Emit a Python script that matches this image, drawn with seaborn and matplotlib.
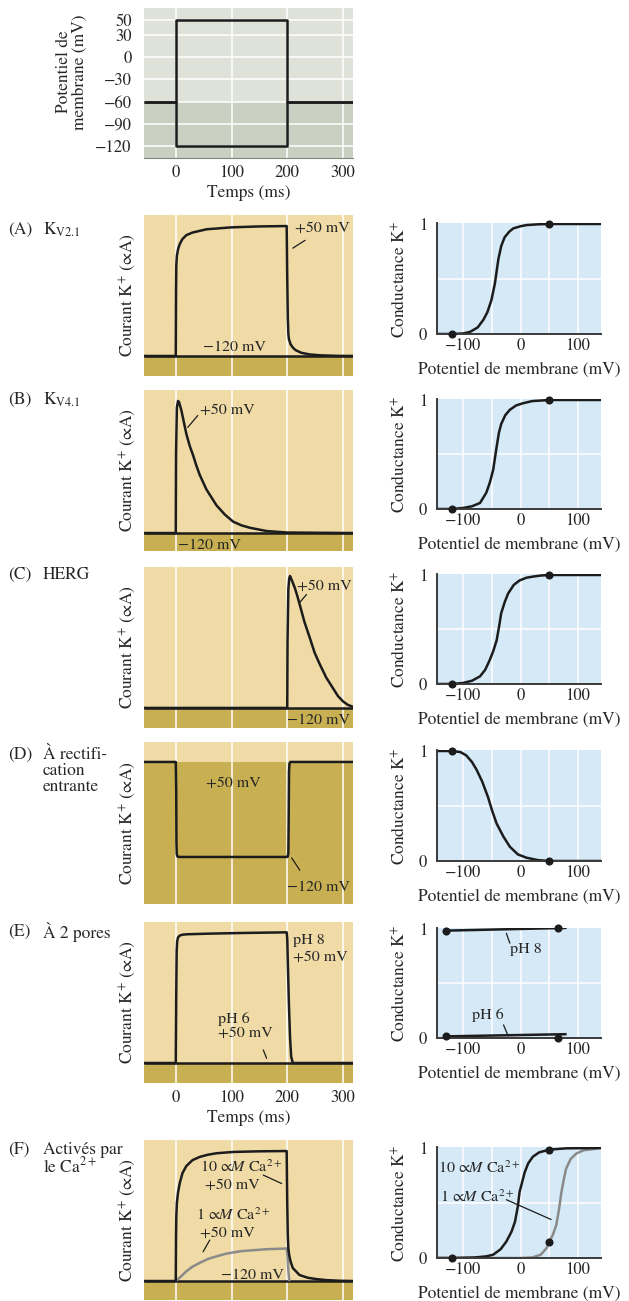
import matplotlib
matplotlib.use("Agg")
import matplotlib.pyplot as plt
import seaborn as sns

# ---------------- data ----------------
time_ticks = [0, 100, 200, 300]
volt_ticks = [50, 30, 0, -30, -60, -90, -120]
mv_ticks = [-100, 0, 100]

# voltage protocol (top)
step_t = [-57, 0, 0, 200, 200, 318]
step_dep = [-60, -60, 50, 50, -60, -60]
step_hyp = [-60, -60, -120, -120, -60, -60]

# baseline current (-120 mV)
base_t = [-57, 318]
base_i = [0, 0]

# (A) Kv2.1
kv21_t = [-57, 0, 0.5, 1, 2, 4, 7, 12, 19, 30, 55, 100, 150, 199, 200, 201, 202, 203, 206, 210, 215, 225, 240, 260, 290, 318]
kv21_i = [0, 0, 0.5, 0.7, 0.77, 0.82, 0.86, 0.9, 0.93, 0.95, 0.975, 0.99, 0.997, 1.0, 0.6, 0.3, 0.17, 0.13, 0.09, 0.065, 0.045, 0.025, 0.012, 0.005, 0.001, 0]

# (B) Kv4.1
kv41_t = [-57, 0, 0.5, 2, 4, 6, 10, 15, 19, 25, 31, 37, 43, 55, 73, 88, 103, 118, 133, 163, 200, 318]
kv41_i = [0, 0, 0.6, 0.95, 1.0, 0.99, 0.93, 0.83, 0.75, 0.66, 0.59, 0.51, 0.44, 0.33, 0.21, 0.14, 0.086, 0.058, 0.04, 0.015, 0.004, 0]

# (C) HERG
herg_t = [-57, 200, 200.5, 202, 203.5, 205, 208, 213.6, 218, 222.6, 231, 240.6, 249, 258.5, 270, 282, 291, 300, 308, 318]
herg_i = [0, 0, 0.5, 0.9, 0.98, 1.0, 0.97, 0.91, 0.85, 0.78, 0.65, 0.53, 0.42, 0.33, 0.23, 0.15, 0.09, 0.05, 0.025, 0.008]

# (D) inward rectifier
kir_t = [-57, 0, 0.8, 1.2, 1.8, 3, 5, 200, 201, 202, 202.6, 203.2, 204, 205.5, 318]
kir_i = [0, 0, -0.3, -0.85, -0.97, -0.995, -1.0, -1.0, -0.995, -0.96, -0.6, -0.1, -0.02, 0, 0]

# (E) two-pore, pH 8
k2p_t = [-57, 0, 0.8, 1.6, 2.5, 4, 7, 12, 20, 60, 120, 199, 200, 201.5, 203, 205, 207, 210, 318]
k2p_i = [0, 0, 0.5, 0.85, 0.93, 0.96, 0.975, 0.982, 0.985, 0.99, 0.995, 1.0, 0.95, 0.7, 0.45, 0.2, 0.05, 0, 0]

# (F) Ca-activated, 10 uM and 1 uM
kca10_t = [-57, 0, 0.5, 1, 2, 4, 7, 12, 19, 30, 43, 58, 73, 103, 150, 199, 200, 201, 202, 203.5, 206, 210, 222, 237, 252, 270, 295, 318]
kca10_i = [0, 0, 0.35, 0.5, 0.6, 0.68, 0.75, 0.83, 0.885, 0.93, 0.955, 0.972, 0.983, 0.993, 0.998, 1.0, 0.6, 0.35, 0.25, 0.2, 0.15, 0.1, 0.046, 0.025, 0.015, 0.007, 0.002, 0]
kca1_t = [0, 4, 8, 13, 19, 30, 43, 58, 73, 90, 103, 118, 133, 163, 199, 200.5, 202, 203.5, 205]
kca1_i = [0, 0.015, 0.03, 0.05, 0.075, 0.11, 0.14, 0.17, 0.19, 0.21, 0.22, 0.23, 0.235, 0.245, 0.25, 0.2, 0.08, 0.01, 0]

# conductance-voltage curves
g_kv21_v = [-146, -120, -100, -88, -75, -65, -58, -51, -45, -39, -34, -28, -20, -13, 0, 10, 30, 50, 140]
g_kv21_g = [0, 0, 0.005, 0.02, 0.06, 0.13, 0.2, 0.31, 0.46, 0.68, 0.8, 0.88, 0.93, 0.96, 0.98, 0.99, 0.997, 1, 1]
g_kv41_v = [-146, -120, -100, -85, -71, -60, -54, -48, -42, -38, -34, -27, -19, -8, 4, 20, 50, 140]
g_kv41_g = [0, 0, 0.01, 0.025, 0.055, 0.15, 0.24, 0.36, 0.57, 0.7, 0.78, 0.86, 0.91, 0.95, 0.97, 0.99, 1, 1]
g_herg_v = [-146, -120, -100, -85, -71, -62, -54, -48, -42, -38, -34, -28, -22, -12, -2, 10, 21, 35, 50, 140]
g_herg_g = [0, 0, 0.01, 0.03, 0.07, 0.13, 0.22, 0.3, 0.4, 0.52, 0.65, 0.75, 0.83, 0.91, 0.95, 0.975, 0.985, 0.995, 1, 1]
g_kir_v = [-146, -120, -105, -95, -85, -77, -67, -57, -50, -42, -30, -19, -5, 10, 30, 50, 140]
g_kir_g = [1, 1, 0.99, 0.96, 0.9, 0.83, 0.72, 0.58, 0.46, 0.34, 0.22, 0.13, 0.06, 0.03, 0.008, 0, 0]
g_ph8_v = [-130, 80]
g_ph8_g = [0.985, 1.01]
g_ph6_v = [-130, 80]
g_ph6_g = [0.015, 0.035]
g_ca10_v = [-146, -120, -80, -60, -48, -35, -25, -16, -10, -5, -2, 3, 7, 13, 21, 32, 50, 79, 140]
g_ca10_g = [0, 0, 0.005, 0.015, 0.03, 0.08, 0.15, 0.24, 0.33, 0.47, 0.6, 0.7, 0.78, 0.86, 0.92, 0.96, 0.985, 0.997, 1]
g_ca1_v = [-146, 0, 20, 35, 45, 50, 56, 62, 67, 71, 75, 79, 87, 97, 110, 126, 140]
g_ca1_g = [0, 0, 0.005, 0.03, 0.09, 0.15, 0.21, 0.3, 0.45, 0.6, 0.71, 0.81, 0.9, 0.95, 0.98, 0.99, 1.0]

dots_std_v = [-120, 50]
dots_act_g = [0, 1]
dots_kir_g = [1, 0]
dots_ph8_v = [-130, 65]
dots_ph8_g = [0.985, 1.005]
dots_ph6_v = [-130, 65]
dots_ph6_g = [0.015, 0.0]
dots_ca10_g = [0, 0.985]
dots_ca1_v = [50]
dots_ca1_g = [0.15]

# ---------------- style ----------------
sns.set_style("white")
plt.rcParams['font.family'] = ['STIXGeneral', 'DejaVu Serif']
plt.rcParams['mathtext.fontset'] = 'stix'
plt.rcParams['axes.unicode_minus'] = True

INK = '#1c1c1c'
GRAY = '#8a8a8a'
TOP_LIGHT = '#dee2d8'
TOP_DARK = '#c9d0c1'
TAN_LIGHT = '#f0dba6'
TAN_DARK = '#c8b052'
BLUE = '#d5e9f7'
LW = 1.8
FS = 12.5
FS_TICK = 12
FS_ANN = 11.5

W, H = 629, 1301
fig = plt.figure(figsize=(W / 100, H / 100), dpi=100)
fig.patch.set_facecolor('white')


def add_ax(l, t, r, b):
    return fig.add_axes([l / W, 1 - b / H, (r - l) / W, (b - t) / H])


def ftext(x, y, s, **kw):
    kw.setdefault('fontsize', FS)
    fig.text(x / W, 1 - y / H, s, **kw)


def line(ax, x, y, color=INK, lw=LW):
    sns.lineplot(x=x, y=y, sort=False, estimator=None, color=color, lw=lw, ax=ax,
                 solid_joinstyle='round', solid_capstyle='butt')


def dots(ax, x, y):
    sns.scatterplot(x=x, y=y, color=INK, s=34, edgecolor=INK, linewidth=0, ax=ax,
                    clip_on=False, zorder=5)


def lead(ax, xs, ys):
    ax.plot(xs, ys, color=INK, lw=0.9)


# ---------------- top: voltage protocol ----------------
ax0 = add_ax(144, 8, 353, 158)
ax0.axhspan(-60, 66, color=TOP_LIGHT, zorder=0, lw=0)
ax0.axhspan(-136, -60, color=TOP_DARK, zorder=0, lw=0)
line(ax0, step_t, step_dep)
line(ax0, step_t, step_hyp)
ax0.set_xlim(-57, 318)
ax0.set_ylim(-136, 66)
ax0.set_xticks(time_ticks)
ax0.set_yticks(volt_ticks)
ax0.grid(color='white', lw=1.1)
ax0.set_axisbelow(True)
ax0.tick_params(length=0, labelsize=FS_TICK)
ax0.tick_params(axis='y', pad=9)
ax0.tick_params(axis='x', pad=5)
for k, s in ax0.spines.items():
    s.set_visible(k == 'bottom')
ax0.spines['bottom'].set_color('#7e867a')
ax0.set_xlabel('')
ax0.set_ylabel('')
ftext(72, 72, "Potentiel de\nmembrane (mV)", rotation=90, ha='center', va='center',
      linespacing=1.0)
ftext(249, 193, "Temps (ms)", ha='center', va='center')


# ---------------- left current panels ----------------
def left_panel(t, b, ylim, show_x=False):
    ax = add_ax(144, t, 353, b)
    ax.axhspan(0, ylim[1], color=TAN_LIGHT, zorder=0, lw=0)
    ax.axhspan(ylim[0], 0, color=TAN_DARK, zorder=0, lw=0)
    ax.set_xlim(-57, 318)
    ax.set_ylim(*ylim)
    ax.set_xticks(time_ticks)
    ax.set_yticks([])
    ax.grid(axis='x', color='white', lw=1.1)
    ax.set_axisbelow(True)
    for s in ax.spines.values():
        s.set_visible(False)
    ax.tick_params(length=0, labelsize=FS_TICK, labelbottom=show_x, pad=5)
    ftext(128, (t + b) / 2, "Courant K$^{+}$ (∝A)", rotation=90, ha='center', va='center')
    return ax


def finish(ax):
    ax.set_xlabel('')
    ax.set_ylabel('')


def right_panel(y1, y0):
    ax = add_ax(437, y1 - 1.1, 601, y0)
    ax.set_facecolor(BLUE)
    ax.set_xlim(-146, 140)
    ax.set_ylim(0, 1.01)
    ax.set_xticks(mv_ticks)
    ax.set_xticks([-50, 50], minor=True)
    ax.set_yticks([0, 1])
    ax.set_yticks([0.5], minor=True)
    ax.grid(which='both', axis='x', color='white', lw=1.1)
    ax.grid(which='minor', axis='y', color='white', lw=1.1)
    ax.set_axisbelow(True)
    ax.spines['top'].set_visible(False)
    ax.spines['right'].set_visible(False)
    for k in ('left', 'bottom'):
        ax.spines[k].set_color('#3a3a3a')
        ax.spines[k].set_linewidth(1.4)
    ax.tick_params(which='both', length=0, labelsize=FS_TICK)
    ax.tick_params(axis='x', pad=3)
    ax.tick_params(axis='y', pad=7)
    ftext(400, (y1 + y0) / 2, "Conductance K$^{+}$", rotation=90, ha='center', va='center')
    ftext(519, y0 + 36, "Potentiel de membrane (mV)", ha='center', va='center')
    return ax


def panel_label(letter, y, lines, dy=16):
    ftext(8, y, letter, ha='left', va='center_baseline')
    for k, s in enumerate(lines):
        ftext(43, y + k * dy, s, ha='left', va='center_baseline')


# (A)
axA = left_panel(215, 376, (-0.154, 1.085))
line(axA, base_t, base_i)
line(axA, kv21_t, kv21_i)
axA.text(214, 0.98, "+50 mV", ha='left', va='center', fontsize=FS_ANN)
lead(axA, [210, 232], [0.83, 0.89])
axA.text(106, 0.07, "−120 mV", ha='center', va='center', fontsize=FS_ANN)
finish(axA)
rA = right_panel(224, 334)
line(rA, g_kv21_v, g_kv21_g)
dots(rA, dots_std_v, dots_act_g)
finish(rA)
panel_label("(A)", 228, ["K$_{\\mathrm{V2.1}}$"])

# (B)
axB = left_panel(390, 551, (-0.136, 1.083))
line(axB, base_t, base_i)
line(axB, kv41_t, kv41_i)
axB.text(43, 0.93, "+50 mV", ha='left', va='center', fontsize=FS_ANN)
lead(axB, [21.5, 39.5], [0.80, 0.89])
axB.text(61, -0.09, "−120 mV", ha='center', va='center', fontsize=FS_ANN)
finish(axB)
rB = right_panel(400, 509)
line(rB, g_kv41_v, g_kv41_g)
dots(rB, dots_std_v, dots_act_g)
finish(rB)
panel_label("(B)", 398, ["K$_{\\mathrm{V4.1}}$"])

# (C)
axC = left_panel(567, 728, (-0.152, 1.068))
line(axC, base_t, base_i)
line(axC, herg_t, herg_i)
axC.text(217, 0.92, "+50 mV", ha='left', va='center', fontsize=FS_ANN)
lead(axC, [222.6, 234.6], [0.80, 0.86])
axC.text(256, -0.09, "−120 mV", ha='center', va='center', fontsize=FS_ANN)
finish(axC)
rC = right_panel(575, 684)
line(rC, g_herg_v, g_herg_g)
dots(rC, dots_std_v, dots_act_g)
finish(rC)
panel_label("(C)", 573, ["HERG"])

# (D)
axD = left_panel(742, 904, (-1.495, 0.21))
line(axD, kir_t, kir_i)
axD.text(103, -0.22, "+50 mV", ha='center', va='center', fontsize=FS_ANN)
axD.text(256, -1.32, "−120 mV", ha='center', va='center', fontsize=FS_ANN)
lead(axD, [208, 222.6], [-1.01, -1.14])
finish(axD)
rD = right_panel(751, 861)
line(rD, g_kir_v, g_kir_g)
dots(rD, dots_std_v, dots_kir_g)
finish(rD)
panel_label("(D)", 753, ["À rectifi-", "cation", "entrante"])

# (E)
axE = left_panel(922, 1083, (-0.153, 1.079), show_x=True)
line(axE, base_t, base_i)
line(axE, k2p_t, k2p_i)
axE.text(209.5, 0.94, "pH 8", ha='left', va='center', fontsize=FS_ANN)
axE.text(209.5, 0.81, "+50 mV", ha='left', va='center', fontsize=FS_ANN)
axE.text(75, 0.34, "pH 6", ha='left', va='center', fontsize=FS_ANN)
axE.text(75, 0.23, "+50 mV", ha='left', va='center', fontsize=FS_ANN)
lead(axE, [157, 163], [0.10, 0.036])
finish(axE)
ftext(249, 1118, "Temps (ms)", ha='center', va='center')
rE = right_panel(929, 1038)
line(rE, g_ph8_v, g_ph8_g)
line(rE, g_ph6_v, g_ph6_g)
dots(rE, dots_ph8_v, dots_ph8_g)
dots(rE, dots_ph6_v, dots_ph6_g)
rE.text(9.5, 0.81, "pH 8", ha='center', va='center', fontsize=FS_ANN)
lead(rE, [-25, -19], [0.96, 0.87])
rE.text(-57, 0.21, "pH 6", ha='center', va='center', fontsize=FS_ANN)
lead(rE, [-30, -22], [0.12, 0.02])
finish(rE)
panel_label("(E)", 930, ["À 2 pores"])

# (F)
axF = left_panel(1140, 1300, (-0.146, 1.085))
line(axF, base_t, base_i)
line(axF, kca1_t, kca1_i, color=GRAY)
line(axF, kca10_t, kca10_i)
axF.text(43, 0.88, "10 ∝$M$ Ca$^{2+}$", ha='left', va='center', fontsize=FS_ANN)
axF.text(52, 0.74, "+50 mV", ha='left', va='center', fontsize=FS_ANN)
lead(axF, [157, 190], [0.815, 0.75])
axF.text(37, 0.51, "1 ∝$M$ Ca$^{2+}$", ha='left', va='center', fontsize=FS_ANN)
axF.text(43, 0.37, "+50 mV", ha='left', va='center', fontsize=FS_ANN)
lead(axF, [49, 61], [0.225, 0.315])
axF.text(82, 0.012, "−120 mV", ha='left', va='baseline', fontsize=FS_ANN)
finish(axF)
rF = right_panel(1148, 1258)
line(rF, g_ca1_v, g_ca1_g, color=GRAY)
line(rF, g_ca10_v, g_ca10_g)
dots(rF, dots_std_v, dots_ca10_g)
dots(rF, dots_ca1_v, dots_ca1_g)
rF.text(-144, 0.82, "10 ∝$M$ Ca$^{2+}$", ha='left', va='center', fontsize=FS_ANN)
rF.text(-141, 0.56, "1 ∝$M$ Ca$^{2+}$", ha='left', va='center', fontsize=FS_ANN)
lead(rF, [-25, 53], [0.53, 0.35])
finish(rF)
panel_label("(F)", 1148, ["Activés par", "le Ca$^{2+}$"])

fig.savefig("out.png", dpi=100)
